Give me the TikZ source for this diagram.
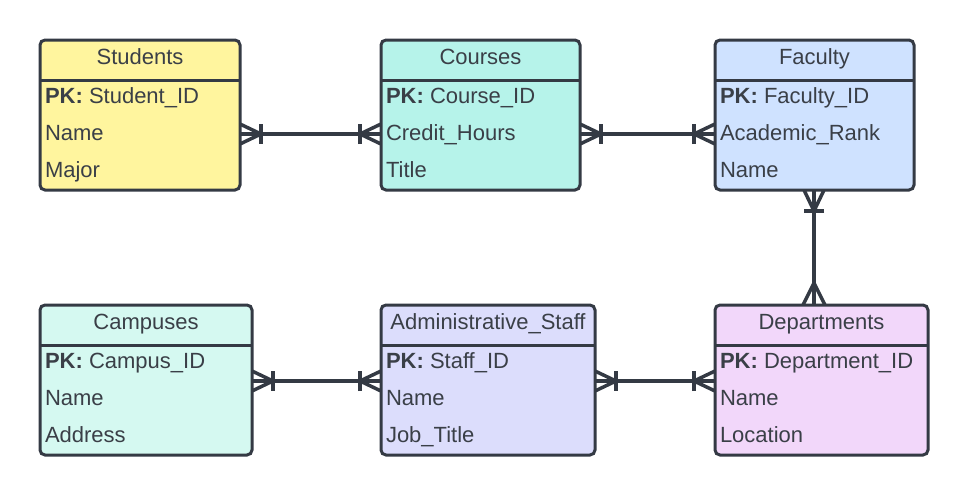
\documentclass[tikz,border=0pt]{standalone}
\usepackage{fontspec}
\setmainfont{Liberation Sans}
\definecolor{ink}{HTML}{343A44}
\definecolor{txt}{HTML}{3A3F47}
\definecolor{cStu}{HTML}{FFF59E}
\definecolor{cCou}{HTML}{B6F3EA}
\definecolor{cFac}{HTML}{CFE2FF}
\definecolor{cCam}{HTML}{D5F9F1}
\definecolor{cAdm}{HTML}{DCDDFC}
\definecolor{cDep}{HTML}{F2D7FA}
\tikzset{
  ent/.style={draw=ink, line width=3pt, rounded corners=5pt, rectangle, minimum height=150pt, anchor=north west},
  hdr/.style={anchor=base, text=txt, font=\fontsize{22}{26}\selectfont},
  row/.style={anchor=base west, text=txt, font=\fontsize{22}{26}\selectfont},
  conn/.style={draw=ink, line width=3.5pt},
  onemany/.pic={
    \draw[ink, line width=3.5pt] (0,-10) -- (21,0) -- (0,10);
    \draw[ink, line width=3.5pt] (21,-10) -- (21,10);
  },
  many/.pic={
    \draw[ink, line width=3.5pt] (0,-11) -- (22,0) -- (0,11);
  }
}
\newcommand\erbox[9]{%
  \node[ent, fill=#5, minimum width=#4pt] (#1) at (#2,#3) {};
  \draw[ink, line width=3pt] (#2,#3+40) -- (#2+#4,#3+40);
  \node[hdr] (#1-t) at (#2+#4/2,#3+24) {#6};
  \node[row] (#1-a) at (#2+5,#3+63) {\textbf{PK:} #7};
  \node[row] (#1-b) at (#2+5,#3+100) {#8};
  \node[row] (#1-c) at (#2+5,#3+137) {#9};
}
\begin{document}
\begin{tikzpicture}[x=1pt,y=-1pt, every node/.style={inner sep=0pt, outer sep=0pt}]
\useasboundingbox (0,0) rectangle (969,496);
\fill[white] (0,0) rectangle (969,496);
\erbox{stu}{40}{40}{200}{cStu}{Students}{Student\_ID}{Name}{Major}
\erbox{cou}{381}{40}{199}{cCou}{Courses}{Course\_ID}{Credit\_Hours}{Title}
\erbox{fac}{715}{40}{199}{cFac}{Faculty}{Faculty\_ID}{Academic\_Rank}{Name}
\erbox{cam}{40}{305}{212}{cCam}{Campuses}{Campus\_ID}{Name}{Address}
\erbox{adm}{381}{305}{214}{cAdm}{Administrative\_Staff}{Staff\_ID}{Name}{Job\_Title}
\erbox{dep}{715}{305}{213}{cDep}{Departments}{Department\_ID}{Name}{Location}
\coordinate (ya) at (0,134);
\coordinate (yb) at (0,381);
\coordinate (xv) at (814,0);
\draw[conn] (stu.east |- ya) -- (cou.west |- ya);
\pic at (stu.east |- ya) {onemany};
\pic[rotate=180] at (cou.west |- ya) {onemany};
\draw[conn] (cou.east |- ya) -- (fac.west |- ya);
\pic at (cou.east |- ya) {onemany};
\pic[rotate=180] at (fac.west |- ya) {onemany};
\draw[conn] (cam.east |- yb) -- (adm.west |- yb);
\pic at (cam.east |- yb) {onemany};
\pic[rotate=180] at (adm.west |- yb) {onemany};
\draw[conn] (adm.east |- yb) -- (dep.west |- yb);
\pic at (adm.east |- yb) {onemany};
\pic[rotate=180] at (dep.west |- yb) {onemany};
\draw[conn] (fac.south -| xv) -- (dep.north -| xv);
\pic[rotate=-90] at (fac.south -| xv) {onemany};
\pic[rotate=90] at (dep.north -| xv) {many};
\end{tikzpicture}
\end{document}
